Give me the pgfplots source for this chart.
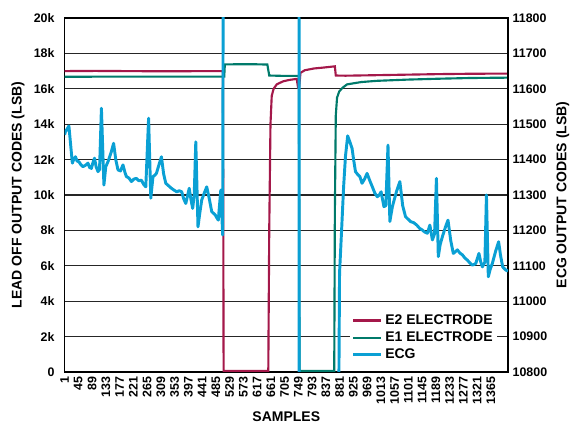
\documentclass[border=0pt]{standalone}
\usepackage{pgfplots}
\pgfplotsset{compat=1.18}
\usepackage{fontspec}
\setmainfont{Liberation Sans}
\definecolor{ctwo}{HTML}{A4184A}
\definecolor{cone}{HTML}{007A6A}
\definecolor{cecg}{HTML}{0AA0D4}
\begin{document}
\begin{tikzpicture}
\useasboundingbox (-48.4pt,-39.75pt) rectangle (383.6pt,279pt);
\pgfplotsset{
  common/.style={
    scale only axis, width=332.6pt, height=265.5pt,
    xmin=1, xmax=1420,
    scaled ticks=false,
    tick style={draw=none},
    /pgf/number format/assume math mode=true,
    /pgf/number format/set thousands separator={},
    ticklabel style={font=\fontsize{9.3}{11}\selectfont\bfseries},
    label style={font=\fontsize{10.5}{12}\selectfont\bfseries},
    axis line style={line width=1.1pt, black},
  }
}
\begin{axis}[common,
  ymin=0, ymax=20000,
  ytick={0,2000,...,20000},
  yticklabels={0,2k,4k,6k,8k,10k,12k,14k,16k,18k,20k},
  ytick pos=left,
  yticklabel style={xshift=-4pt},
  xtick={1,45,...,1365},
  xticklabel style={rotate=90, anchor=east, xshift=0pt},
  ymajorgrids,
  grid style={line width=0.8pt, black!85},
  xlabel={SAMPLES},
  ylabel={LEAD OFF OUTPUT CODES (LSB)},
  xlabel style={yshift=1pt},
]
\addplot[ctwo, line width=1.6pt] coordinates {
(1,17000) (100,17010) (300,16990) (508,17000) (510,60) (653,60) (656,8000) (660,14000) (664,15600)
(670,16000) (680,16250) (700,16420) (720,16500) (744,16560) (748,16100) (752,16150) (756,16900)
(770,17050) (800,17150) (830,17200) (866,17270) (869,16750) (900,16740) (1000,16770) (1100,16800)
(1200,16830) (1300,16850) (1420,16860)
};
\addplot[cone, line width=1.6pt] coordinates {
(1,16680) (200,16690) (512,16690) (514,17380) (600,17390) (650,17370) (656,16750) (700,16730)
(751,16730) (753,60) (864,60) (866,9000) (869,14500) (873,15500) (880,15850) (890,16050)
(905,16250) (950,16380) (1000,16450) (1100,16520) (1200,16570) (1300,16610) (1420,16630)
};
\end{axis}
\begin{axis}[common,
  ymin=10800, ymax=11800,
  ytick={10800,10900,...,11800},
  axis y line*=right,
  axis x line=none,
  ylabel={ECG OUTPUT CODES (LSB)},
  legend cell align=left,
  legend style={at={(0.975,0.02)}, anchor=south east, draw=none, fill=white,
    font=\fontsize{10.5}{12}\selectfont\bfseries, inner xsep=1pt, inner ysep=1pt,
    row sep=0pt},
  legend image code/.code={\draw[#1] (0pt,0pt) -- (21pt,0pt);},
]
\addlegendimage{ctwo, line width=1.6pt}
\addlegendentry{E2 ELECTRODE}
\addlegendimage{cone, line width=1.6pt}
\addlegendentry{E1 ELECTRODE}
\addplot[cecg, line width=2.2pt, line join=round] coordinates {
(1,11470) (4,11479) (15,11495) (26,11390) (31,11402) (36,11408) (41,11396) (47,11394) (53,11386) (60,11380)
(68,11384) (76,11390) (81,11378) (87,11375) (92,11392) (97,11404) (102,11380) (108,11366) (113,11372)
(119,11545) (127,11328) (133,11380) (140,11394) (150,11420) (158,11446) (165,11400) (172,11371) (180,11368)
(188,11385) (194,11365) (199,11352) (207,11348) (215,11338) (223,11345) (231,11347) (239,11340) (247,11342)
(254,11330) (261,11323) (270,11517) (277,11291) (284,11352) (290,11356) (295,11361) (303,11385) (311,11408)
(318,11360) (325,11333) (334,11326) (343,11319) (351,11314) (360,11309) (368,11312) (376,11309) (382,11290)
(389,11276) (400,11319) (405,11290) (411,11262) (416,11300) (421,11450) (428,11210) (434,11250) (440,11286)
(448,11305) (456,11323) (464,11290) (472,11253) (478,11248) (483,11244) (488,11236) (493,11229)
(501,11314) (507,11187) (510,12500) (751,12500) (752,10500) (877,10500) (881,11080) (887,11190)
(894,11323) (900,11410) (907,11467) (914,11450) (921,11432) (926,11400) (932,11366) (939,11358) (946,11352)
(953,11333) (961,11345) (969,11361) (978,11340) (986,11323) (994,11305) (1002,11295) (1008,11300) (1014,11309)
(1023,11267) (1029,11270) (1036,11441) (1042,11225) (1050,11267) (1057,11290) (1063,11309) (1074,11338)
(1083,11270) (1092,11239) (1100,11232) (1108,11225) (1118,11222) (1128,11215) (1137,11206) (1146,11201)
(1154,11195) (1162,11192) (1170,11215) (1178,11173) (1185,11190) (1191,11347) (1197,11126) (1203,11160)
(1210,11182) (1220,11210) (1228,11229) (1237,11170) (1245,11135) (1252,11140) (1258,11145) (1266,11136)
(1274,11131) (1282,11122) (1290,11116) (1298,11108) (1306,11102) (1312,11104) (1317,11107) (1327,11135)
(1333,11110) (1338,11097) (1346,11110) (1351,11300) (1357,11069) (1363,11090) (1370,11107) (1380,11140)
(1390,11168) (1396,11130) (1403,11097) (1413,11088) (1420,11085)
};
\addlegendentry{ECG}
\end{axis}
\end{tikzpicture}
\end{document}
